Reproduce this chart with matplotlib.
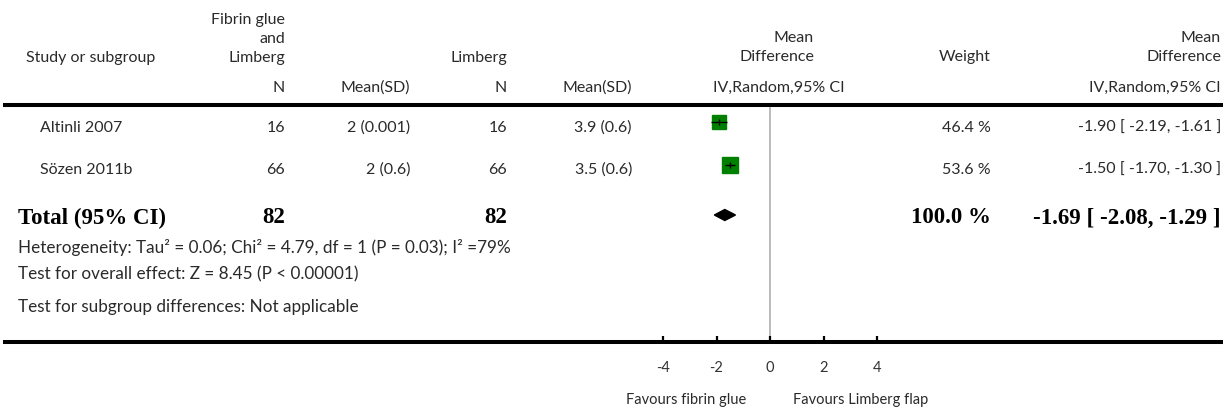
import matplotlib
matplotlib.use('Agg')
import matplotlib.pyplot as plt
from matplotlib.patches import Polygon

plt.rcParams['font.family'] = ['Lato', 'DejaVu Sans']

# study level data
studies = ['Altinli 2007', 'Sözen 2011b']
n_glue = [16, 66]
mean_glue = [2, 2]
sd_glue = [0.001, 0.6]
n_limb = [16, 66]
mean_limb = [3.9, 3.5]
sd_limb = [0.6, 0.6]
md = [-1.90, -1.50]
ci_lo = [-2.19, -1.70]
ci_hi = [-1.61, -1.30]
weight = [46.4, 53.6]

# pooled estimate
tot_n_glue = 82
tot_n_limb = 82
tot_md = -1.69
tot_lo = -2.08
tot_hi = -1.29
tot_weight = 100.0

xticks = [-4, -2, 0, 2, 4]
het_text = 'Heterogeneity: Tau² = 0.06; Chi² = 4.79, df = 1 (P = 0.03); I² =79%'
effect_text = 'Test for overall effect: Z = 8.45 (P < 0.00001)'
subgroup_text = 'Test for subgroup differences: Not applicable'

W, H = 1223, 410
fig = plt.figure(figsize=(W / 100, H / 100), dpi=100)

# layout in pixels
row_y = [123, 166, 216]
text_y = [128, 170, 218]
top_px, bot_px, left_px = 106, 343, 5
px_per_unit = 26.75
zero_px = 770

# forest panel: spans full width, top/bottom spines are the table rules
ax = fig.add_axes([left_px / W, 1 - bot_px / H, 1 - left_px / W, (bot_px - top_px) / H])
ax.set_xlim((left_px - zero_px) / px_per_unit, (W - zero_px) / px_per_unit)
ax.set_ylim(bot_px, top_px)
for s in ['left', 'right']:
    ax.spines[s].set_visible(False)
for s in ['top', 'bottom']:
    ax.spines[s].set_linewidth(2.9)
ax.set_yticks([])
ax.set_xticks(xticks)
ax.set_xticklabels([str(t) for t in xticks], fontsize=10.5, color='#333333')
ax.tick_params(axis='x', direction='in', length=4, width=1.6, pad=13)
ax.patch.set_alpha(0)
ax.axvline(0, color='#a8a8a8', lw=1.1, zorder=1)

gl = '#008000'
for i in range(len(studies)):
    ax.hlines(row_y[i], ci_lo[i], ci_hi[i], color='black', lw=1, zorder=4)
    ax.plot(md[i], row_y[i], marker='s', ms=1.55 * weight[i] ** 0.5, color=gl,
            mec=gl, zorder=3)
    ax.plot(md[i], row_y[i], marker='|', ms=5, color='black', mew=1, zorder=5)

dh = 5.5
diamond = Polygon([(tot_lo, row_y[2]), (tot_md, row_y[2] - dh), (tot_hi, row_y[2]),
                   (tot_md, row_y[2] + dh)], closed=True, color='black', zorder=3)
ax.add_patch(diamond)

# text table on a pixel grid
tab = fig.add_axes([0, 0, 1, 1])
tab.set_xlim(0, W)
tab.set_ylim(H, 0)
tab.axis('off')
tab.patch.set_alpha(0)

tc = '#2a2a2a'
fs = 11.5


def put(x, y, s, ha='right', **kw):
    kw.setdefault('fontsize', fs)
    kw.setdefault('color', tc)
    tab.text(x, y, s, ha=ha, va='center', **kw)


# headers
put(26, 58, 'Study or subgroup', ha='left')
put(285, 20, 'Fibrin glue')
put(285, 39, 'and')
put(285, 58, 'Limberg')
put(507, 58, 'Limberg')
put(814, 38, 'Mean')
put(814, 57, 'Difference')
put(991, 57, 'Weight')
put(1221, 38, 'Mean')
put(1221, 57, 'Difference')
put(285, 88, 'N')
put(410, 88, 'Mean(SD)')
put(507, 88, 'N')
put(632, 88, 'Mean(SD)')
put(779, 88, 'IV,Random,95% CI', ha='center')
put(1221, 88, 'IV,Random,95% CI')

# study rows
for i in range(len(studies)):
    y = text_y[i]
    put(40, y, studies[i], ha='left')
    put(285, y, str(n_glue[i]))
    put(410, y, f'{mean_glue[i]:g} ({sd_glue[i]:g})')
    put(507, y, str(n_limb[i]))
    put(632, y, f'{mean_limb[i]:g} ({sd_limb[i]:g})')
    put(991, y, f'{weight[i]:.1f} %')
    put(1221, y, f'{md[i]:.2f} [ {ci_lo[i]:.2f}, {ci_hi[i]:.2f} ]')

# total row
bold = dict(family='Liberation Serif', fontweight='bold', fontsize=16.5, color='black')
y = text_y[2]
put(18, y, 'Total (95% CI)', ha='left', **bold)
put(285, y, str(tot_n_glue), **bold)
put(507, y, str(tot_n_limb), **bold)
put(991, y, f'{tot_weight:.1f} %', **bold)
put(1221, y, f'{tot_md:.2f} [ {tot_lo:.2f}, {tot_hi:.2f} ]', **bold)

put(18, 248, het_text, ha='left', fontsize=12.3)
put(18, 274, effect_text, ha='left', fontsize=12.3)
put(18, 307, subgroup_text, ha='left', fontsize=12.3)

put(686, 400, 'Favours fibrin glue', ha='center', fontsize=10.5)
put(861, 400, 'Favours Limberg flap', ha='center', fontsize=10.5)

fig.savefig('out.png', dpi=100)
